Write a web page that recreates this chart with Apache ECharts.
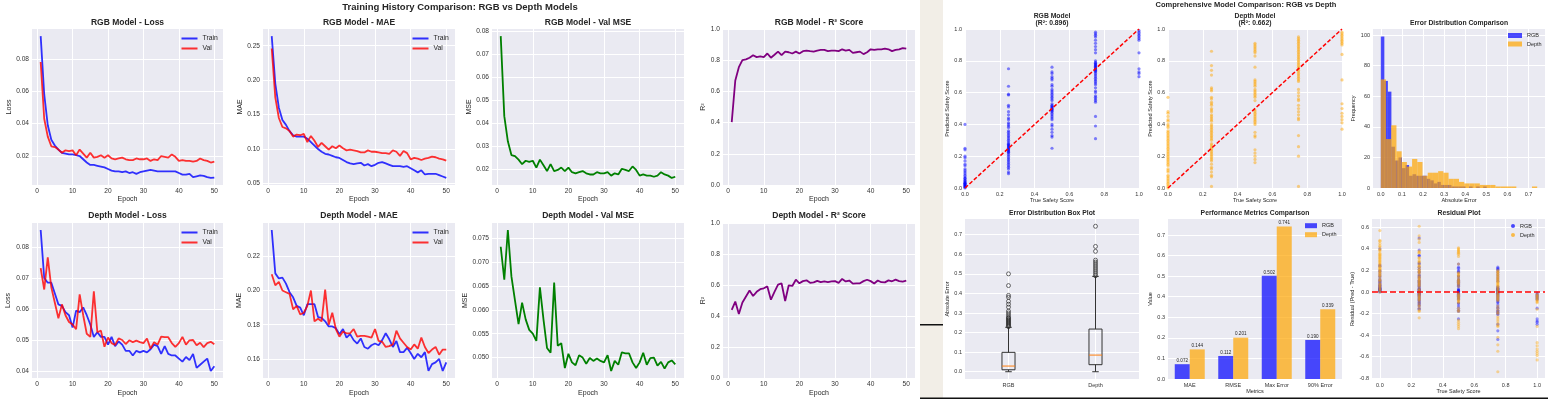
<!DOCTYPE html>
<html>
<head>
<meta charset="utf-8">
<script src="https://cdn.jsdelivr.net/npm/echarts@6/dist/echarts.min.js"></script>
<style>
html, body {margin: 0; padding: 0; background: #fff;}
#main {width: 1548px; height: 399px;}
</style>
</head>
<body>
<div id="main"></div>
<script>
// ---- training history (left figure) ----
var epochs = [1,2,3,4,5,6,7,8,9,10,11,12,13,14,15,16,17,18,19,20,21,22,23,24,25,
    26,27,28,29,30,31,32,33,34,35,36,37,38,39,40,41,42,43,44,45,46,47,48,49,50];
var epochTicks = [0, 10, 20, 30, 40, 50];

var rgbTrainLoss = [0.094,0.058,0.039,0.030,0.0265,0.024,0.022,0.0215,0.021,0.021,0.0205,0.020,0.018,0.016,0.0145,0.0145,0.014,0.0135,0.013,0.012,
    0.011,0.0105,0.0105,0.010,0.0105,0.0095,0.010,0.009,0.010,0.0105,0.011,0.0115,0.011,0.0105,0.0105,0.0105,0.0105,0.0105,0.0105,0.0095,
    0.0085,0.0085,0.009,0.007,0.0075,0.008,0.0078,0.007,0.0065,0.0067];
var rgbValLoss = [0.078,0.043,0.032,0.026,0.0255,0.024,0.022,0.0235,0.023,0.0235,0.0205,0.024,0.0215,0.019,0.022,0.019,0.0195,0.0205,0.019,0.0205,
    0.0185,0.018,0.0185,0.019,0.018,0.0175,0.0175,0.0185,0.018,0.018,0.0185,0.017,0.018,0.0175,0.020,0.0195,0.019,0.021,0.0195,0.017,
    0.0175,0.017,0.017,0.0165,0.017,0.0185,0.0175,0.017,0.016,0.0165];
var rgbTrainMae = [0.264,0.195,0.160,0.142,0.135,0.126,0.120,0.118,0.118,0.118,0.115,0.110,0.105,0.100,0.096,0.093,0.092,0.090,0.088,0.087,
    0.084,0.081,0.079,0.078,0.079,0.080,0.076,0.078,0.075,0.077,0.080,0.081,0.079,0.077,0.075,0.075,0.075,0.074,0.075,0.072,
    0.069,0.066,0.069,0.063,0.064,0.064,0.064,0.062,0.060,0.058];
var rgbValMae = [0.246,0.175,0.145,0.132,0.130,0.126,0.118,0.121,0.120,0.122,0.110,0.119,0.112,0.103,0.109,0.104,0.099,0.104,0.101,0.105,
    0.101,0.098,0.099,0.098,0.097,0.095,0.095,0.098,0.096,0.096,0.095,0.094,0.094,0.093,0.098,0.096,0.090,0.097,0.094,0.085,
    0.087,0.086,0.084,0.086,0.087,0.089,0.088,0.086,0.085,0.083];
var rgbR2 = [0.403,0.670,0.755,0.801,0.805,0.816,0.832,0.820,0.824,0.820,0.843,0.816,0.835,0.855,0.832,0.855,0.851,0.843,0.855,0.843,
    0.858,0.862,0.858,0.855,0.862,0.866,0.866,0.858,0.862,0.862,0.858,0.870,0.862,0.866,0.847,0.851,0.855,0.839,0.851,0.870,
    0.866,0.870,0.870,0.874,0.870,0.858,0.866,0.870,0.878,0.874];

var depthTrainLoss = [0.0855,0.070,0.0685,0.0685,0.065,0.0615,0.061,0.059,0.058,0.054,0.0595,0.059,0.0605,0.058,0.055,0.051,0.0525,0.051,0.051,0.0485,
    0.051,0.048,0.0495,0.0485,0.0465,0.0465,0.045,0.0465,0.046,0.0465,0.046,0.047,0.0485,0.048,0.0455,0.048,0.0455,0.045,0.045,0.044,
    0.043,0.0445,0.0435,0.0455,0.041,0.042,0.043,0.044,0.040,0.0415];
var depthValLoss = [0.0732,0.0663,0.0767,0.067,0.062,0.057,0.0615,0.058,0.0558,0.055,0.0535,0.0647,0.058,0.052,0.051,0.0657,0.0525,0.053,0.0478,0.0508,
    0.049,0.0484,0.0505,0.050,0.0487,0.0499,0.0493,0.0498,0.0493,0.049,0.0505,0.0472,0.0493,0.0485,0.0511,0.0509,0.0509,0.049,0.0478,0.049,
    0.051,0.0485,0.0499,0.050,0.0483,0.0491,0.0477,0.049,0.0494,0.0486];
var depthTrainMae = [0.2353,0.210,0.207,0.2075,0.204,0.199,0.196,0.191,0.190,0.1855,0.192,0.192,0.192,0.1845,0.184,0.182,0.179,0.179,0.178,0.1745,
    0.1775,0.1725,0.1745,0.171,0.169,0.172,0.167,0.166,0.168,0.169,0.168,0.171,0.175,0.1715,0.167,0.1705,0.164,0.164,0.1665,0.1635,
    0.160,0.163,0.161,0.164,0.153,0.157,0.158,0.160,0.153,0.158];
var depthValMae = [0.2095,0.203,0.205,0.200,0.199,0.198,0.189,0.191,0.186,0.187,0.191,0.200,0.182,0.1835,0.182,0.2005,0.180,0.187,0.1775,0.173,
    0.176,0.175,0.175,0.1775,0.173,0.1735,0.1735,0.173,0.1725,0.1775,0.1705,0.170,0.167,0.1675,0.1685,0.1765,0.172,0.1695,0.167,0.1655,
    0.1685,0.166,0.1725,0.167,0.1635,0.1655,0.167,0.1625,0.1655,0.1655];
var depthR2 = [0.440,0.493,0.413,0.487,0.526,0.564,0.529,0.556,0.573,0.579,0.591,0.505,0.556,0.602,0.610,0.497,0.598,0.594,0.634,0.611,
    0.625,0.630,0.614,0.617,0.627,0.618,0.623,0.619,0.623,0.625,0.614,0.639,0.623,0.629,0.609,0.611,0.611,0.625,0.634,0.625,
    0.610,0.629,0.618,0.617,0.630,0.624,0.635,0.625,0.622,0.628];

var rgbLossTicks = [0.02, 0.04, 0.06, 0.08];
var rgbMaeTicks = [0.05, 0.10, 0.15, 0.20, 0.25];
var rgbMseTicks = [0.02, 0.03, 0.04, 0.05, 0.06, 0.07, 0.08];
var depthLossTicks = [0.04, 0.05, 0.06, 0.07, 0.08];
var depthMaeTicks = [0.16, 0.18, 0.20, 0.22];
var depthMseTicks = [0.050, 0.055, 0.060, 0.065, 0.070, 0.075];
var r2Ticks = [0, 0.2, 0.4, 0.6, 0.8, 1.0];

// ---- model comparison (right figure) ----
var trueScores = [0, 0.25, 0.5, 0.75, 1.0];
var rgbPred = [
    [0.40,0.25,0.24,0.20,0.19,0.17,0.15,0.14,0.12,0.11,0.10,0.09,0.08,0.07,0.06,0.05,0.045,0.04,0.035,0.03,0.025,0.02,0.015,0.01,0.005,0.0,0.06,0.03,0.02,0.01],
    [0.75,0.64,0.59,0.585,0.52,0.51,0.48,0.46,0.44,0.43,0.41,0.40,0.39,0.38,0.36,0.35,0.34,0.33,0.32,0.31,0.30,0.29,0.28,0.275,0.27,0.265,0.26,0.255,0.25,0.245,
     0.24,0.235,0.23,0.225,0.22,0.21,0.20,0.19,0.18,0.17,0.16,0.15,0.14,0.13,0.12,0.10,0.09],
    [0.76,0.73,0.72,0.70,0.69,0.68,0.65,0.64,0.62,0.61,0.60,0.59,0.58,0.57,0.56,0.55,0.53,0.52,0.515,0.51,0.505,0.50,0.495,0.49,0.485,0.48,0.47,0.46,0.45,0.44,
     0.43,0.40,0.39,0.37,0.35,0.33,0.32,0.25],
    [0.98,0.97,0.96,0.95,0.93,0.91,0.89,0.87,0.85,0.80,0.79,0.785,0.78,0.775,0.77,0.765,0.76,0.755,0.75,0.745,0.74,0.735,0.73,0.72,0.71,0.70,0.69,0.68,0.67,0.66,
     0.65,0.63,0.61,0.60,0.58,0.57,0.56,0.55,0.54,0.45,0.39,0.31],
    [0.99,0.98,0.97,0.96,0.95,0.94,0.93,0.85,0.75,0.73,0.72,0.70]
];
var depthPred = [
    [0.57,0.48,0.47,0.45,0.43,0.42,0.40,0.39,0.38,0.36,0.35,0.34,0.33,0.32,0.31,0.30,0.29,0.28,0.27,0.26,0.25,0.24,0.23,0.22,0.21,0.20,0.19,0.18,0.17,0.16,
     0.15,0.14,0.12,0.11,0.10,0.08,0.07,0.06,0.05,0.04,0.03,0.02,0.01,0.0],
    [0.86,0.77,0.74,0.71,0.63,0.62,0.61,0.57,0.56,0.54,0.53,0.52,0.50,0.49,0.48,0.46,0.45,0.44,0.43,0.42,0.40,0.39,0.38,0.37,0.36,0.35,0.34,0.33,0.32,0.31,
     0.30,0.28,0.27,0.26,0.25,0.24,0.23,0.22,0.21,0.20,0.19,0.18,0.17,0.15,0.13,0.12,0.10,0.08,0.07,0.01],
    [0.91,0.90,0.89,0.88,0.87,0.86,0.85,0.83,0.76,0.68,0.67,0.66,0.65,0.64,0.62,0.61,0.60,0.59,0.58,0.57,0.55,0.49,0.48,0.47,0.46,0.45,0.44,0.43,0.42,0.41,
     0.40,0.35,0.33,0.32,0.24,0.22,0.20,0.18,0.16],
    [0.95,0.94,0.93,0.92,0.91,0.90,0.89,0.88,0.87,0.86,0.85,0.84,0.83,0.82,0.81,0.80,0.79,0.78,0.77,0.76,0.75,0.74,0.73,0.72,0.71,0.70,0.69,0.68,0.67,0.62,
     0.60,0.58,0.56,0.55,0.52,0.50,0.48,0.46,0.44,0.43,0.33,0.26,0.20,0.01],
    [0.98,0.97,0.96,0.95,0.94,0.93,0.92,0.91,0.90,0.84,0.68,0.53,0.50,0.47,0.45,0.43,0.41,0.37]
];
var rgbErrCounts = [99,70,63,27,18,20,13,15,8,9,8,8,8,6,5,3,4,2,2,2,1,1,1,1,0,1,0,1,0,1];
var rgbErrMax = 0.502;
var depthErrCounts = [71,32,41,24,17,14,19,17,8,10,10,11,10,6,6,4,3,3,3,2,2,2,1,1,1,1,0,0,0,1];
var depthErrMax = 0.741;
var boxNames = ['RGB', 'Depth'];
var rgbBox = [0.0, 0.010, 0.029, 0.099, 0.227];
var depthBox = [0.0, 0.036, 0.085, 0.218, 0.487];
var rgbOutliers = [0.23,0.235,0.24,0.245,0.25,0.255,0.26,0.265,0.27,0.275,0.28,0.29,0.30,0.31,0.33,0.345,0.36,0.38,0.39,0.44,0.50];
var depthOutliers = [0.49,0.50,0.51,0.52,0.53,0.54,0.55,0.56,0.57,0.615,0.64,0.743];
var metricNames = ['MAE', 'RMSE', 'Max Error', '90% Error'];
var rgbMetrics = [0.072, 0.112, 0.502, 0.190];
var depthMetrics = [0.144, 0.201, 0.741, 0.339];
var unitTicks = [0, 0.2, 0.4, 0.6, 0.8, 1.0];
var errTicks = [0, 0.1, 0.2, 0.3, 0.4, 0.5, 0.6, 0.7];
var freqTicks = [0, 20, 40, 60, 80, 100];
var residTicks = [-0.8, -0.6, -0.4, -0.2, 0, 0.2, 0.4, 0.6];

var FONT = '"Liberation Sans", Arial, Helvetica, sans-serif';
var TXT = '#262626';
var BLUE = 'rgba(0,0,255,0.8)';
var RED = 'rgba(255,0,0,0.8)';

var grids = [], xAxes = [], yAxes = [], series = [], legends = [], graphics = [];

function autoMin(v) { return v.min - (v.max - v.min) * 0.05; }
function autoMax(v) { return v.max + (v.max - v.min) * 0.05; }

function axis(o, gi, fs) {
    var a = {
        type: o.type || 'value', gridIndex: gi,
        min: o.min, max: o.max,
        name: o.name, nameLocation: 'middle', nameGap: o.gap,
        nameTextStyle: {fontSize: o.nameSize, color: TXT, fontFamily: FONT},
        axisLine: {show: false},
        axisTick: {show: false},
        axisLabel: {fontSize: fs, color: '#333', fontFamily: FONT, margin: o.margin || 3},
        splitLine: {show: o.split !== false, lineStyle: {color: '#ffffff', width: 1}}
    };
    if (a.type === 'category') {
        a.data = o.data;
    } else {
        a.axisTick.customValues = o.ticks;
        a.axisLabel.customValues = o.ticks;
        a.axisLabel.formatter = o.fmt || function (v) { return v.toFixed(o.dec); };
    }
    return a;
}

function panel(box, xo, yo, fs) {
    var gi = grids.length;
    grids.push({show: true, left: box[0], top: box[1], width: box[2], height: box[3],
        backgroundColor: '#eaeaf2', borderWidth: 0, outerBoundsMode: 'none'});
    xAxes.push(axis(xo, gi, fs));
    yAxes.push(axis(yo, gi, fs));
    return gi;
}

function text(t, x, y, size, bold) {
    graphics.push({type: 'text', x: x, y: y, silent: true, style: {
        text: t, fontSize: size, fontWeight: bold ? 'bold' : 'normal', fontFamily: FONT,
        fill: TXT, align: 'center', verticalAlign: 'middle'}});
}

function pairs(xs, ys) {
    return ys.map(function (y, i) { return [xs[i], y]; });
}

// ---------- left figure ----------
var leftCols = [32, 263, 492, 723];
var leftW = [191, 192, 192, 192];
var rowTop = [29, 223];
var rowH = [156, 155];

var trainingPanels = [
    {row: 0, col: 0, title: 'RGB Model - Loss', yName: 'Loss', gap: 19.5, ticks: rgbLossTicks, dec: 2,
        lines: [['Train', rgbTrainLoss, BLUE], ['Val', rgbValLoss, RED]], legend: true},
    {row: 0, col: 1, title: 'RGB Model - MAE', yName: 'MAE', gap: 19.5, ticks: rgbMaeTicks, dec: 2,
        lines: [['Train', rgbTrainMae, BLUE], ['Val', rgbValMae, RED]], legend: true},
    {row: 0, col: 2, title: 'RGB Model - Val MSE', yName: 'MSE', gap: 19.5, ticks: rgbMseTicks, dec: 2,
        lines: [['Val MSE', rgbValLoss, 'green']]},
    {row: 0, col: 3, title: 'RGB Model - R\u00b2 Score', yName: 'R\u00b2', gap: 15.5, ticks: r2Ticks, dec: 1, fixed: true,
        lines: [['R2', rgbR2, 'purple']]},
    {row: 1, col: 0, title: 'Depth Model - Loss', yName: 'Loss', gap: 20, ticks: depthLossTicks, dec: 2,
        lines: [['Train', depthTrainLoss, BLUE], ['Val', depthValLoss, RED]], legend: true},
    {row: 1, col: 1, title: 'Depth Model - MAE', yName: 'MAE', gap: 20.5, ticks: depthMaeTicks, dec: 2,
        lines: [['Train', depthTrainMae, BLUE], ['Val', depthValMae, RED]], legend: true},
    {row: 1, col: 2, title: 'Depth Model - Val MSE', yName: 'MSE', gap: 22.5, ticks: depthMseTicks, dec: 3,
        lines: [['Val MSE', depthValLoss, 'green']]},
    {row: 1, col: 3, title: 'Depth Model - R\u00b2 Score', yName: 'R\u00b2', gap: 15.5, ticks: r2Ticks, dec: 1, fixed: true,
        lines: [['R2', depthR2, 'purple']]}
];

trainingPanels.forEach(function (p) {
    var box = [leftCols[p.col], rowTop[p.row], leftW[p.col], rowH[p.row]];
    var gi = panel(box,
        {min: -1.45, max: 52.45, ticks: epochTicks, dec: 0, name: 'Epoch', nameSize: 7,
            gap: p.row === 0 ? 11 : 12, margin: p.row === 0 ? 3 : 2.5},
        {min: p.fixed ? 0 : autoMin, max: p.fixed ? 1 : autoMax, ticks: p.ticks, dec: p.dec,
            name: p.yName, nameSize: 7, gap: p.gap},
        6.6);
    p.lines.forEach(function (l) {
        series.push({type: 'line', name: l[0], xAxisIndex: gi, yAxisIndex: gi,
            data: pairs(epochs, l[1]), symbol: 'none', showSymbol: false,
            lineStyle: {color: l[2], width: 1.8}, itemStyle: {color: l[2]}, z: 3});
    });
    text(p.title, box[0] + box[2] / 2, p.row === 0 ? 22.7 : 215.7, 8.5, true);
    if (p.legend) {
        legends.push({left: box[0] + 149.5, top: box[1] + 6, orient: 'vertical', padding: 0,
            icon: 'rect', itemWidth: 16, itemHeight: 2, itemGap: 3, selectedMode: false,
            textStyle: {fontSize: 6.8, color: TXT, fontFamily: FONT},
            data: [{name: 'Train', itemStyle: {color: BLUE}}, {name: 'Val', itemStyle: {color: RED}}]});
    }
});
text('Training History Comparison: RGB vs Depth Models', 460, 7, 9.5, true);

// ---------- right figure ----------
var PT_BLUE = 'rgba(0,0,255,0.6)';
var PT_ORANGE = 'rgba(255,165,0,0.6)';
var BAR_BLUE = 'rgba(0,0,255,0.7)';
var BAR_ORANGE = 'rgba(255,165,0,0.7)';
var RFS = 5.5;

function predPoints(preds) {
    var out = [];
    preds.forEach(function (col, i) {
        col.forEach(function (p) { out.push([trueScores[i], p]); });
    });
    return out;
}
function residPoints(preds) {
    var out = [];
    preds.forEach(function (col, i) {
        col.forEach(function (p) { out.push([trueScores[i], +(p - trueScores[i]).toFixed(3)]); });
    });
    return out;
}

// scatter panels
[[965, rgbPred, PT_BLUE, 'RGB Model', '(R\u00b2: 0.896)'],
 [1168, depthPred, PT_ORANGE, 'Depth Model', '(R\u00b2: 0.662)']].forEach(function (s) {
    var gi = panel([s[0], 29, 174, 159],
        {min: 0, max: 1, ticks: unitTicks, dec: 1, name: 'True Safety Score', nameSize: 5.5, gap: 8},
        {min: 0, max: 1, ticks: unitTicks, dec: 1, name: 'Predicted Safety Score', nameSize: 5.5, gap: 12},
        RFS);
    series.push({type: 'scatter', name: s[3], xAxisIndex: gi, yAxisIndex: gi, data: predPoints(s[1]),
        symbolSize: 3.2, itemStyle: {color: s[2]}, z: 2});
    series.push({type: 'line', name: 'ideal', xAxisIndex: gi, yAxisIndex: gi, data: [[0, 0], [1, 1]],
        symbol: 'none', lineStyle: {color: 'red', width: 1.5, type: [4, 2]}, z: 4});
    text(s[3], s[0] + 87, 15.7, 6.8, true);
    text(s[4], s[0] + 87, 23.3, 6.8, true);
});

// histogram
function binData(counts, maxErr) {
    var w = maxErr / counts.length;
    return counts.map(function (c, i) { return [i * w, (i + 1) * w, c]; });
}
function histItem(params, api) {
    var p0 = api.coord([api.value(0), api.value(2)]);
    var p1 = api.coord([api.value(1), 0]);
    return {type: 'rect', shape: {x: p0[0], y: p0[1], width: p1[0] - p0[0], height: p1[1] - p0[1]},
        style: api.style()};
}
var hg = panel([1373, 29, 172, 159],
    {min: autoMin, max: autoMax, ticks: errTicks, dec: 1, name: 'Absolute Error', nameSize: 5.5, gap: 8},
    {min: 0, max: autoMax, ticks: freqTicks, dec: 0, name: 'Frequency', nameSize: 5.5, gap: 13},
    RFS);
series.push({type: 'custom', name: 'RGB', xAxisIndex: hg, yAxisIndex: hg, renderItem: histItem,
    data: binData(rgbErrCounts, rgbErrMax), encode: {x: [0, 1], y: 2}, itemStyle: {color: BAR_BLUE}});
series.push({type: 'custom', name: 'Depth', xAxisIndex: hg, yAxisIndex: hg, renderItem: histItem,
    data: binData(depthErrCounts, depthErrMax), encode: {x: [0, 1], y: 2}, itemStyle: {color: BAR_ORANGE}});
text('Error Distribution Comparison', 1459, 22.7, 6.8, true);
legends.push({left: 1508, top: 32.5, orient: 'vertical', padding: 0, icon: 'rect', itemWidth: 14, itemHeight: 5,
    itemGap: 2.5, selectedMode: false, textStyle: {fontSize: 5.5, color: TXT, fontFamily: FONT},
    data: [{name: 'RGB', itemStyle: {color: BAR_BLUE}}, {name: 'Depth', itemStyle: {color: BAR_ORANGE}}]});

// box plot
function boxItem(params, api) {
    var x = api.value(0);
    var lo = api.coord([x, api.value(1)]);
    var q1 = api.coord([x, api.value(2)]);
    var md = api.coord([x, api.value(3)]);
    var q3 = api.coord([x, api.value(4)]);
    var hi = api.coord([x, api.value(5)]);
    var half = api.size([0.075, 0])[0];
    var cap = half / 2;
    var st = {stroke: '#333', lineWidth: 1};
    return {type: 'group', children: [
        {type: 'line', shape: {x1: lo[0], y1: lo[1], x2: q1[0], y2: q1[1]}, style: st},
        {type: 'line', shape: {x1: q3[0], y1: q3[1], x2: hi[0], y2: hi[1]}, style: st},
        {type: 'line', shape: {x1: lo[0] - cap, y1: lo[1], x2: lo[0] + cap, y2: lo[1]}, style: st},
        {type: 'line', shape: {x1: hi[0] - cap, y1: hi[1], x2: hi[0] + cap, y2: hi[1]}, style: st},
        {type: 'rect', shape: {x: q3[0] - half, y: q3[1], width: half * 2, height: q1[1] - q3[1]},
            style: {stroke: '#333', lineWidth: 1, fill: 'none'}},
        {type: 'line', shape: {x1: md[0] - half, y1: md[1], x2: md[0] + half, y2: md[1]},
            style: {stroke: '#ff7f0e', lineWidth: 1}}
    ]};
}
var bg = panel([965, 219, 174, 160],
    {min: 0.5, max: 2.5, ticks: [1, 2], fmt: function (v) { return boxNames[v - 1]; }, gap: 8},
    {min: autoMin, max: autoMax, ticks: errTicks, dec: 1, name: 'Absolute Error', nameSize: 5.5, gap: 12},
    RFS);
series.push({type: 'custom', name: 'box', xAxisIndex: bg, yAxisIndex: bg, renderItem: boxItem,
    data: [[1].concat(rgbBox), [2].concat(depthBox)], encode: {x: 0, y: [1, 2, 3, 4, 5]}});
series.push({type: 'scatter', name: 'outliers', xAxisIndex: bg, yAxisIndex: bg,
    data: rgbOutliers.map(function (v) { return [1, v]; }).concat(depthOutliers.map(function (v) { return [2, v]; })),
    symbolSize: 4, itemStyle: {color: 'rgba(0,0,0,0)', borderColor: '#222', borderWidth: 0.8}});
text('Error Distribution Box Plot', 1052, 212.7, 6.8, true);

// metrics bars
var mg = panel([1168, 219, 174, 160],
    {type: 'category', data: metricNames, name: 'Metrics', nameSize: 5.5, gap: 9, split: false},
    {min: 0, max: function (v) { return v.max * 1.05; }, ticks: errTicks, dec: 1, name: 'Value', nameSize: 5.5, gap: 12},
    RFS);
[['RGB', rgbMetrics, BAR_BLUE], ['Depth', depthMetrics, BAR_ORANGE]].forEach(function (b) {
    series.push({type: 'bar', name: b[0], xAxisIndex: mg, yAxisIndex: mg, data: b[1],
        barWidth: 15, barGap: '0%', itemStyle: {color: b[2]},
        label: {show: true, position: 'top', distance: 1, fontSize: 4.6, color: TXT, fontFamily: FONT,
            formatter: function (p) { return p.value.toFixed(3); }}});
});
text('Performance Metrics Comparison', 1255, 212.7, 6.8, true);
legends.push({left: 1305, top: 222.7, orient: 'vertical', padding: 0, icon: 'rect', itemWidth: 12, itemHeight: 5,
    itemGap: 3, selectedMode: false, textStyle: {fontSize: 5.5, color: TXT, fontFamily: FONT},
    data: [{name: 'RGB', itemStyle: {color: BAR_BLUE}}, {name: 'Depth', itemStyle: {color: BAR_ORANGE}}]});

// residuals
var rg = panel([1372, 219, 173, 160],
    {min: -0.05, max: 1.05, ticks: unitTicks, dec: 1, name: 'True Safety Score', nameSize: 5.5, gap: 9},
    {min: autoMin, max: autoMax, ticks: residTicks, dec: 1, name: 'Residual (Pred - True)', nameSize: 5.5, gap: 16},
    RFS);
series.push({type: 'scatter', name: 'RGB', xAxisIndex: rg, yAxisIndex: rg, data: residPoints(rgbPred),
    symbolSize: 3.2, itemStyle: {color: 'rgba(0,0,255,0.5)'}});
series.push({type: 'scatter', name: 'Depth', xAxisIndex: rg, yAxisIndex: rg, data: residPoints(depthPred),
    symbolSize: 3.2, itemStyle: {color: 'rgba(255,165,0,0.5)'},
    markLine: {silent: true, symbol: 'none', label: {show: false},
        lineStyle: {color: 'red', width: 1.6, type: [6, 3]}, data: [{yAxis: 0}]}});
text('Residual Plot', 1459, 212.7, 6.8, true);
legends.push({left: 1511, top: 223, orient: 'vertical', padding: 0, icon: 'circle', itemWidth: 4, itemHeight: 4,
    itemGap: 3, selectedMode: false, textStyle: {fontSize: 5.5, color: TXT, fontFamily: FONT},
    data: [{name: 'RGB', itemStyle: {color: 'rgba(0,0,255,0.7)'}}, {name: 'Depth', itemStyle: {color: 'rgba(255,165,0,0.7)'}}]});

text('Comprehensive Model Comparison: RGB vs Depth', 1246, 5, 7.5, true);

// paper strip between the two figures
graphics.unshift(
    {type: 'rect', silent: true, shape: {x: 920, y: 0, width: 23, height: 399}, style: {fill: '#f2eee7'}},
    {type: 'rect', silent: true, shape: {x: 920, y: 324, width: 23, height: 1.5}, style: {fill: '#111'}},
    {type: 'rect', silent: true, shape: {x: 920, y: 397.5, width: 628, height: 1.5}, style: {fill: '#111'}}
);

var chart = echarts.init(document.getElementById('main'), null, {renderer: 'canvas'});
chart.setOption({
    backgroundColor: '#ffffff',
    animation: false,
    textStyle: {fontFamily: FONT},
    grid: grids,
    xAxis: xAxes,
    yAxis: yAxes,
    legend: legends,
    series: series,
    graphic: graphics
});
</script>
</body>
</html>
